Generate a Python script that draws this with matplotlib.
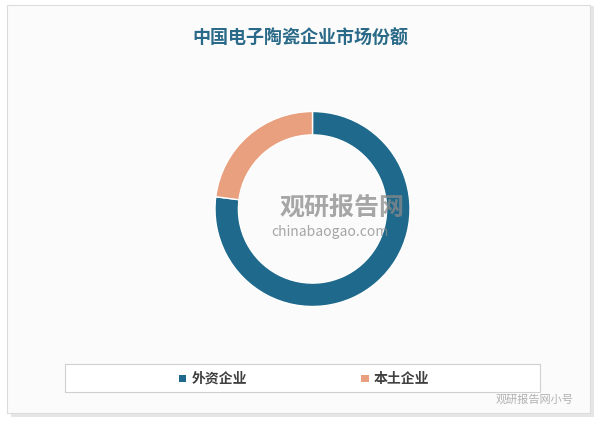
import matplotlib.pyplot as plt
from matplotlib.patches import Rectangle

plt.rcParams['font.family'] = ['Noto Sans CJK SC', 'DejaVu Sans']

labels = ['外资企业', '本土企业']
shares = [77, 23]
colors = ['#1f6a8c', '#e8a07e']

fig = plt.figure(figsize=(6, 4.27), dpi=100)
fig.patch.set_facecolor('white')

# outer frame with soft shadow
fig.patches.append(Rectangle((0.018, 0.022), 0.972, 0.962, transform=fig.transFigure,
                             facecolor='#e6e6e6', edgecolor='none', zorder=0))
fig.patches.append(Rectangle((0.012, 0.03), 0.972, 0.955, transform=fig.transFigure,
                             facecolor='#fbfbfb', edgecolor='#dcdcdc', lw=0.8, zorder=0.1))

fig.text(0.5, 0.91, '中国电子陶瓷企业市场份额', ha='center', va='center',
         fontsize=13, fontweight='bold', color='#2a6a88')

cx, cy, r = 312.5 / 600, 1 - 210 / 427, 97.5
w = 2 * r / 600 * 1.02
h = 2 * r / 427 * 1.02
ax = fig.add_axes([cx - w / 2, cy - h / 2, w, h])
ax.set_zorder(2)
ax.patch.set_alpha(0)
ax.pie(shares, colors=colors, startangle=90, counterclock=False,
       wedgeprops=dict(width=0.24, edgecolor='white', linewidth=1))
ax.set_aspect('equal')
ax.set_xlim(-1.02, 1.02)
ax.set_ylim(-1.02, 1.02)

# watermark
fig.text(0.57, 1 - 208 / 427, '观研报告网', ha='center', va='center', fontsize=18,
         fontweight='bold', color='#8a8a8a', alpha=0.75, zorder=5)
fig.text(0.55, 1 - 232 / 427, 'chinabaogao.com', ha='center', va='center', fontsize=10,
         color='#8a8a8a', alpha=0.75, zorder=5)

# legend box
fig.patches.append(Rectangle((65 / 600, 1 - 393 / 427), 475 / 600, 28 / 427,
                             transform=fig.transFigure, facecolor='white',
                             edgecolor='#d0d0d0', lw=0.8, zorder=1))
for i, (lab, col) in enumerate(zip(labels, colors)):
    x0 = (183 if i == 0 else 365) / 600
    y0 = 1 - 379 / 427
    fig.patches.append(Rectangle((x0 - 3.5 / 600, y0 - 3.5 / 427), 7 / 600, 7 / 427,
                                 transform=fig.transFigure, facecolor=col,
                                 edgecolor='none', zorder=2))
    fig.text(x0 + 9 / 600, y0, lab, ha='left', va='center', fontsize=10,
             fontweight='bold', color='#404040', zorder=3)

fig.text(0.955, 1 - 400 / 427, '观研报告网小号', ha='right', va='center', fontsize=8,
         color='#b0b0b0')

fig.savefig('out.png', dpi=100)
